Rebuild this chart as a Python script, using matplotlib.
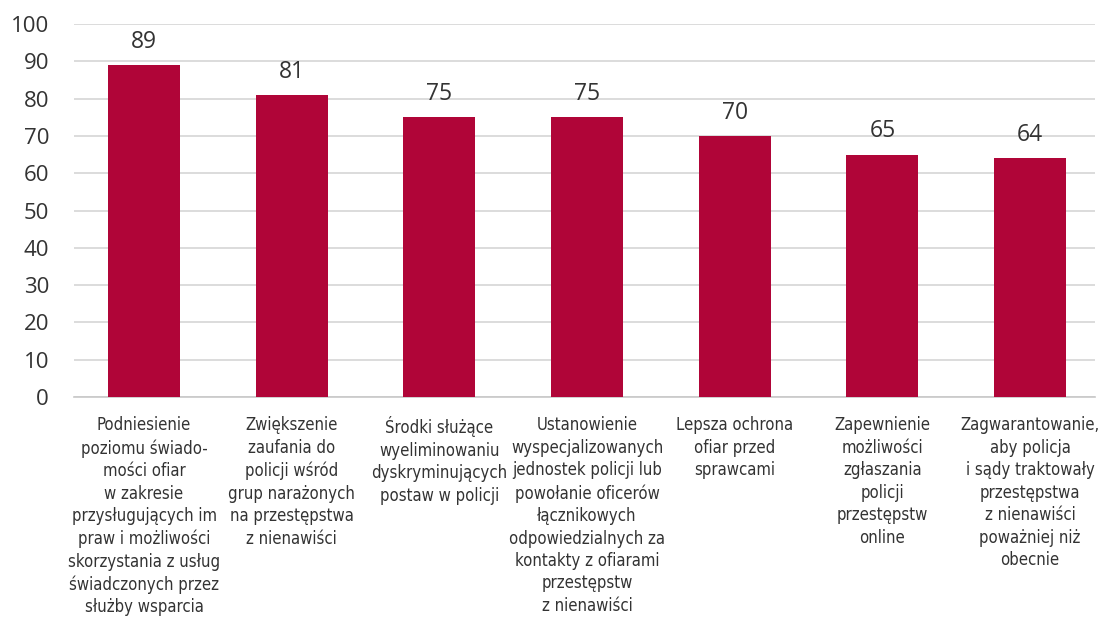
import numpy as np
import matplotlib.pyplot as plt
from matplotlib import font_manager

categories = [
    "Podniesienie\npoziomu świado-\nmości ofiar\nw zakresie\nprzysługujących im\npraw i możliwości\nskorzystania z usług\nświadczonych przez\nsłużby wsparcia",
    "Zwiększenie\nzaufania do\npolicji wśród\ngrup narażonych\nna przestępstwa\nz nienawiści",
    "Środki służące\nwyeliminowaniu\ndyskryminujących\npostaw w policji",
    "Ustanowienie\nwyspecjalizowanych\njednostek policji lub\npowołanie oficerów\nłącznikowych\nodpowiedzialnych za\nkontakty z ofiarami\nprzestępstw\nz nienawiści",
    "Lepsza ochrona\nofiar przed\nsprawcami",
    "Zapewnienie\nmożliwości\nzgłaszania\npolicji\nprzestępstw\nonline",
    "Zagwarantowanie,\naby policja\ni sądy traktowały\nprzestępstwa\nz nienawiści\npoważniej niż\nobecnie",
]
values = [89, 81, 75, 75, 70, 65, 64]
yticks = [0, 10, 20, 30, 40, 50, 60, 70, 80, 90, 100]

bar_color = "#B00538"
text_color = "#333333"


def find_narrow():
    # look for a regular condensed / narrow face among installed fonts
    prefs = ["noto sans", "open sans", "liberation sans", "dejavu sans", "roboto"]
    found = []
    for f in font_manager.fontManager.ttflist:
        fn = f.fname.lower()
        nm = f.name.lower()
        if not any(k in fn or k in nm for k in ["condensed", "narrow"]):
            continue
        if "semi" in fn or "extra" in fn or "ultra" in fn:
            continue
        if f.weight not in (400, "normal", "regular") or f.style != "normal":
            continue
        if any(k in fn for k in ["bold", "light", "thin", "medium", "black", "italic", "mono", "serif"]):
            continue
        rank = next((i for i, p in enumerate(prefs) if p in nm), len(prefs))
        found.append((rank, f.fname))
    if found:
        found.sort()
        return font_manager.FontProperties(fname=found[0][1], size=12), True
    return font_manager.FontProperties(family="Liberation Sans", size=11), False


label_font, is_narrow = find_narrow()

fig = plt.figure(figsize=(10.98, 6.19), dpi=100)
ax = fig.add_axes([0.0674, 0.3586, 0.9299, 0.6026])

x = np.arange(len(values))
ax.bar(x, values, width=0.4875, color=bar_color, zorder=3)

for xi, v in zip(x, values):
    ax.annotate(str(v), (xi, v), xytext=(0, 8), textcoords="offset points",
                ha="center", va="bottom", fontsize=16.5, color=text_color,
                family=["Open Sans", "DejaVu Sans"])

ax.set_ylim(0, 100)
ax.set_xlim(-0.474, 6.44)
ax.set_yticks(yticks)
ax.set_yticklabels([str(t) for t in yticks], family=["Open Sans", "DejaVu Sans"],
                   fontsize=16, color=text_color)
ax.tick_params(axis="y", length=0, pad=18)
ax.tick_params(axis="x", length=0, pad=14)
ax.set_xticks(x)
ax.set_xticklabels(categories, fontproperties=label_font,
                   color=text_color, linespacing=1.32, va="top", ha="center")

ax.grid(axis="y", color="#D6D6D6", linewidth=1.2, zorder=0)
for s in ["top", "right", "left"]:
    ax.spines[s].set_visible(False)
ax.spines["bottom"].set_color("#C8C8C8")
ax.spines["bottom"].set_linewidth(1.2)

fig.savefig("out.png", dpi=100)
